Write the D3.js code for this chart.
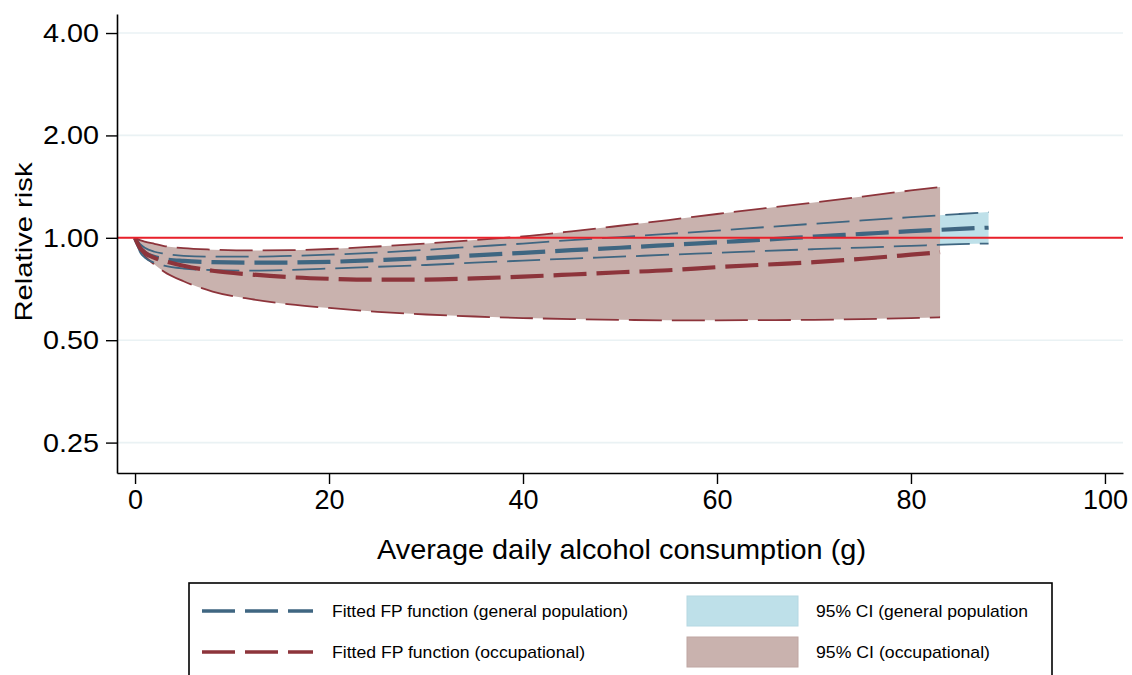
<!DOCTYPE html>
<html>
<head>
<meta charset="utf-8">
<script src="https://cdn.jsdelivr.net/npm/d3@7"></script>
<style>
  html, body { margin: 0; padding: 0; background: #fff; }
  svg { display: block; font-family: "Liberation Sans", Arial, sans-serif; }
</style>
</head>
<body>
<svg id="chart" width="1132" height="675"></svg>
<script>
// Alcohol intake (g/day) and fitted relative risks with 95% confidence limits
const genDose  = [0, 0.5, 1, 2, 3, 5, 8, 12, 16, 20, 25, 30, 35, 40, 45, 50, 55, 60, 65, 70, 75, 80, 85, 88];
const genFit   = [1.000, 0.935, 0.905, 0.878, 0.866, 0.855, 0.848, 0.845, 0.846, 0.850, 0.860, 0.872, 0.888, 0.903, 0.920, 0.935, 0.952, 0.970, 0.988, 1.008, 1.027, 1.046, 1.062, 1.072];
const genUpper = [1.000, 0.960, 0.935, 0.910, 0.898, 0.885, 0.880, 0.880, 0.885, 0.892, 0.905, 0.922, 0.942, 0.962, 0.985, 1.005, 1.027, 1.050, 1.075, 1.100, 1.125, 1.150, 1.175, 1.190];
const genLower = [1.000, 0.910, 0.875, 0.845, 0.828, 0.812, 0.804, 0.801, 0.805, 0.812, 0.822, 0.832, 0.845, 0.857, 0.869, 0.880, 0.892, 0.903, 0.915, 0.926, 0.936, 0.947, 0.958, 0.962];

const occDose  = [0, 0.5, 1, 2, 3, 5, 8, 12, 16, 20, 25, 30, 35, 40, 45, 50, 55, 60, 65, 70, 75, 80, 83];
const occFit   = [1.000, 0.935, 0.905, 0.873, 0.855, 0.828, 0.800, 0.780, 0.766, 0.758, 0.753, 0.754, 0.760, 0.769, 0.780, 0.792, 0.803, 0.820, 0.834, 0.848, 0.868, 0.892, 0.907];
const occUpper = [1.000, 0.985, 0.975, 0.960, 0.946, 0.932, 0.923, 0.918, 0.920, 0.927, 0.943, 0.962, 0.985, 1.010, 1.045, 1.085, 1.128, 1.175, 1.222, 1.270, 1.322, 1.378, 1.410];
const occLower = [1.000, 0.930, 0.885, 0.835, 0.795, 0.745, 0.695, 0.660, 0.637, 0.622, 0.606, 0.595, 0.587, 0.581, 0.577, 0.574, 0.572, 0.572, 0.573, 0.574, 0.577, 0.581, 0.584];

const xTicks = [0, 20, 40, 60, 80, 100];
const yTicks = [0.25, 0.5, 1, 2, 4];
const refRR = 1;

const legendLines  = ["Fitted FP function (general population)", "Fitted FP function (occupational)"];
const legendAreas  = ["95% CI (general population", "95% CI (occupational)"];

// colours
const cBlue = "#3f6681", cRed = "#8d343b", cBlueFill = "#bee0e9", cRedFill = "#c9b2ae", cRef = "#e9202a", cGrid = "#eaf2f4";

const svg = d3.select("#chart");

// plot region
const plotL = 117, plotR = 1123, plotT = 14, plotB = 473;

const x = d3.scaleLinear().domain([-1.86, 101.86]).range([plotL, plotR]);
const y = d3.scaleLog().base(2).domain([0.2035, 4.55]).range([plotB, plotT]);

// gridlines
svg.append("g").selectAll("line").data(yTicks).join("line")
  .attr("x1", plotL).attr("x2", plotR)
  .attr("y1", d => y(d)).attr("y2", d => y(d))
  .attr("stroke", cGrid).attr("stroke-width", 1.6);

const rows = (dose, lo, hi, fit) => dose.map((d, i) => ({x: d, lo: lo[i], hi: hi[i], fit: fit[i]}));
const gen = rows(genDose, genLower, genUpper, genFit);
const occ = rows(occDose, occLower, occUpper, occFit);

const curve = d3.curveMonotoneX;
const area = d3.area().x(d => x(d.x)).y0(d => y(d.lo)).y1(d => y(d.hi)).curve(curve);
const lineOf = key => d3.line().x(d => x(d.x)).y(d => y(d[key])).curve(curve);

// confidence bands
svg.append("path").datum(gen).attr("d", area).attr("fill", cBlueFill);
svg.append("path").datum(occ).attr("d", area).attr("fill", cRedFill);

const dash = "33,10";
// band boundaries
[["hi", occ, cRed], ["lo", occ, cRed], ["hi", gen, cBlue], ["lo", gen, cBlue]].forEach(([k, data, col]) => {
  svg.append("path").datum(data).attr("d", lineOf(k))
    .attr("fill", "none").attr("stroke", col).attr("stroke-width", 1.8)
    .attr("stroke-dasharray", dash);
});

// fitted curves
svg.append("path").datum(gen).attr("d", lineOf("fit"))
  .attr("fill", "none").attr("stroke", cBlue).attr("stroke-width", 4.2).attr("stroke-dasharray", dash);
svg.append("path").datum(occ).attr("d", lineOf("fit"))
  .attr("fill", "none").attr("stroke", cRed).attr("stroke-width", 4.2).attr("stroke-dasharray", dash);

// reference line at RR = 1
svg.append("line")
  .attr("x1", plotL).attr("x2", plotR).attr("y1", y(refRR)).attr("y2", y(refRR))
  .attr("stroke", cRef).attr("stroke-width", 2);

// axes
const yAxis = svg.append("g").attr("transform", `translate(${plotL},0)`)
  .call(d3.axisLeft(y).tickValues(yTicks).tickFormat(d3.format(".2f")).tickSize(11).tickSizeOuter(0).tickPadding(7));
const xAxis = svg.append("g").attr("transform", `translate(0,${plotB})`)
  .call(d3.axisBottom(x).tickValues(xTicks).tickFormat(d3.format("d")).tickSize(11).tickSizeOuter(0).tickPadding(6));

[yAxis, xAxis].forEach(g => {
  g.select(".domain").attr("stroke", "#000").attr("stroke-width", 1.6);
  g.selectAll(".tick line").attr("stroke", "#000").attr("stroke-width", 1.4);
  g.selectAll(".tick text").attr("fill", "#000").style("font-family", "'Liberation Sans', Arial, sans-serif");
});
yAxis.selectAll(".tick text").style("font-size", "25px").attr("dy", "0.34em")
  .attr("textLength", 56).attr("lengthAdjust", "spacingAndGlyphs");
xAxis.selectAll(".tick text").style("font-size", "27px").attr("dy", "0.72em");

// axis titles
svg.append("text")
  .attr("transform", "translate(32,242) rotate(-90)")
  .attr("text-anchor", "middle").style("font-size", "24px")
  .attr("textLength", 159).attr("lengthAdjust", "spacingAndGlyphs")
  .text("Relative risk");
svg.append("text")
  .attr("x", 621.5).attr("y", 559)
  .attr("text-anchor", "middle").style("font-size", "28px")
  .attr("textLength", 489).attr("lengthAdjust", "spacingAndGlyphs")
  .text("Average daily alcohol consumption (g)");

// legend
const lg = svg.append("g");
lg.append("rect").attr("x", 189).attr("y", 583).attr("width", 863).attr("height", 120)
  .attr("fill", "#fff").attr("stroke", "#000").attr("stroke-width", 1.6);

const rowY = [611, 652];
const lineCols = [cBlue, cRed];
legendLines.forEach((t, i) => {
  lg.append("line").attr("x1", 202).attr("x2", 313).attr("y1", rowY[i]).attr("y2", rowY[i])
    .attr("stroke", lineCols[i]).attr("stroke-width", 3.6).attr("stroke-dasharray", dash);
  lg.append("text").attr("x", 332).attr("y", rowY[i] + 6).style("font-size", "17px")
    .attr("textLength", [296, 253][i]).attr("lengthAdjust", "spacingAndGlyphs")
    .text(t);
});
const fillCols = [cBlueFill, cRedFill];
const fillStroke = ["#b5d8e2", "#bfa6a2"];
legendAreas.forEach((t, i) => {
  lg.append("rect").attr("x", 687).attr("y", rowY[i] - 15).attr("width", 111).attr("height", 30)
    .attr("fill", fillCols[i]).attr("stroke", fillStroke[i]).attr("stroke-width", 1);
  lg.append("text").attr("x", 816).attr("y", rowY[i] + 6).style("font-size", "17px")
    .attr("textLength", [212, 174][i]).attr("lengthAdjust", "spacingAndGlyphs")
    .text(t);
});
</script>
</body>
</html>
